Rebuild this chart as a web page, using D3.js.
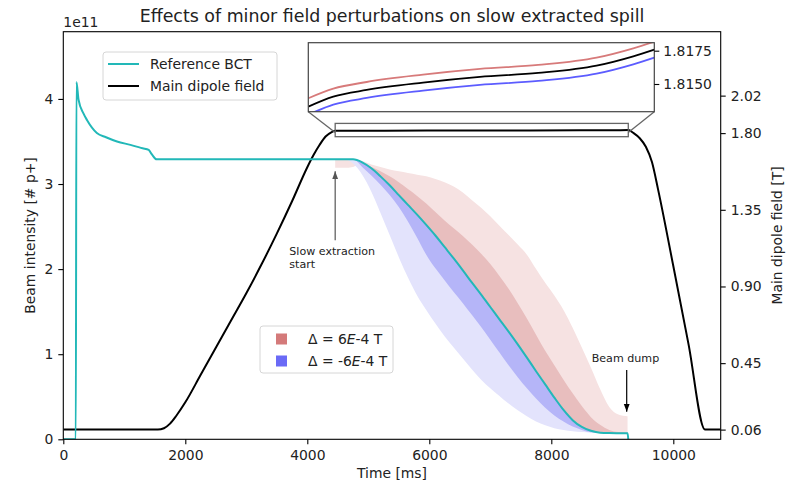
<!DOCTYPE html>
<html>
<head>
<meta charset="utf-8">
<script src="https://cdn.jsdelivr.net/npm/d3@7"></script>
<style>
body { margin: 0; background: #fff; }
svg { font-family: "DejaVu Sans", sans-serif; }
</style>
</head>
<body>
<svg id="chart" width="800" height="485"></svg>
<script>
// ---- data ----
// Reference BCT before extraction (time in ms, intensity in 1e11 p+)
const BCT_EARLY_T = [0, 205, 215, 250, 330, 390, 550, 700, 880, 1100, 1300, 1400, 1450, 1530];
const BCT_EARLY_V = [0, 0, 4.2, 3.99, 3.83, 3.75, 3.60, 3.55, 3.50, 3.46, 3.42, 3.40, 3.35, 3.29];

// extraction window, shared time grid of the BCT line and the bands
const EXT_T = [4457, 4600, 4750, 4900, 5050, 5200, 5350, 5500, 5650, 5800, 5950, 6100, 6250, 6400, 6550, 6700,
  6850, 7000, 7150, 7300, 7450, 7600, 7750, 7900, 8050, 8200, 8350, 8500, 8650, 8800, 8950, 9100, 9250];
const BCT_EXT = [3.29, 3.29, 3.29, 3.255, 3.185, 3.09, 2.985, 2.87, 2.755, 2.64, 2.52, 2.395, 2.26, 2.125, 1.985, 1.84,
  1.70, 1.555, 1.41, 1.265, 1.115, 0.96, 0.80, 0.645, 0.49, 0.345, 0.225, 0.145, 0.10, 0.077, 0.073, 0.072, 0.07];
const BCT_END_T = [9262];
const BCT_END_V = [0];

// +6E-4 T : inner and outer envelopes
const RED_INNER_UP = [3.29, 3.29, 3.29, 3.25, 3.20, 3.15, 3.09, 3.02, 2.94, 2.86, 2.77, 2.67, 2.57, 2.48, 2.39, 2.29,
  2.18, 2.06, 1.92, 1.77, 1.60, 1.42, 1.23, 1.04, 0.87, 0.70, 0.54, 0.39, 0.26, 0.17, 0.11, 0.085, 0.08];
const RED_OUTER_UP = [3.29, 3.29, 3.29, 3.27, 3.23, 3.20, 3.17, 3.15, 3.13, 3.11, 3.09, 3.06, 3.02, 2.97, 2.90, 2.81,
  2.72, 2.62, 2.51, 2.40, 2.29, 2.17, 2.00, 1.84, 1.69, 1.52, 1.31, 1.08, 0.84, 0.59, 0.38, 0.29, 0.27];
const RED_OUTER_LOW = [3.19, 3.19, 3.20, 3.255, 3.185, 3.09, 2.985, 2.87, 2.755, 2.64, 2.52, 2.395, 2.26, 2.125, 1.985, 1.84,
  1.70, 1.555, 1.41, 1.265, 1.115, 0.96, 0.80, 0.645, 0.49, 0.345, 0.225, 0.145, 0.10, 0.077, 0.073, 0.072, 0.07];

// -6E-4 T : inner and outer envelopes
const BLUE_INNER_LOW = [3.29, 3.29, 3.29, 3.20, 3.10, 2.99, 2.87, 2.73, 2.56, 2.37, 2.17, 2.01, 1.87, 1.73, 1.60, 1.46,
  1.32, 1.17, 1.02, 0.87, 0.73, 0.60, 0.48, 0.37, 0.28, 0.21, 0.15, 0.11, 0.082, 0.074, 0.072, 0.07, 0.07];
const BLUE_OUTER_LOW = [3.29, 3.29, 3.24, 3.11, 2.91, 2.66, 2.40, 2.14, 1.90, 1.69, 1.52, 1.36, 1.21, 1.08, 0.95, 0.82,
  0.70, 0.60, 0.51, 0.42, 0.34, 0.27, 0.21, 0.165, 0.13, 0.11, 0.095, 0.085, 0.078, 0.074, 0.072, 0.07, 0.07];

// main dipole field [T]
const RAMP_UP_T = [0, 1550, 1650, 1750, 1850, 2000, 2250, 2500, 2750, 3000, 3250, 3500, 3750, 4000, 4100, 4200, 4300, 4400];
const RAMP_UP_B = [0.06, 0.06, 0.068, 0.095, 0.14, 0.22, 0.38, 0.54, 0.70, 0.86, 1.03, 1.21, 1.40, 1.60, 1.67, 1.73, 1.78, 1.806];
const FLAT_T = [4457, 4804, 5268, 6050, 6841, 7650, 8460, 8970, 9262];
const FLAT_B = [1.8133, 1.81405, 1.81455, 1.8151, 1.81553, 1.81583, 1.81638, 1.81708, 1.81758];
const FLAT_B_PLUS = [1.81393, 1.81465, 1.81515, 1.8157, 1.81613, 1.81643, 1.81698, 1.81768, 1.81818];
const FLAT_B_MINUS = [1.8127, 1.81345, 1.81395, 1.8145, 1.81493, 1.81523, 1.81578, 1.81648, 1.81698];
const RAMP_DOWN_T = [9350, 9450, 9550, 9650, 9750, 10000, 10250, 10520, 10777];
const RAMP_DOWN_B = [1.80, 1.77, 1.72, 1.63, 1.47, 1.02, 0.56, 0.06, 0.06];

// ticks
const TIME_TICKS = [0, 2000, 4000, 6000, 8000, 10000];
const BEAM_TICKS = [0, 1, 2, 3, 4];
const FIELD_TICKS = [0.06, 0.45, 0.90, 1.35, 1.80, 2.02];
const INSET_TICKS = [1.815, 1.8175];

// zoomed region marked on the main axes
const MARK_T = [4457, 9262];
const MARK_B = [1.779, 1.857];
const MARK_JOIN_B = 1.804;

// ---- layout ----
const SVG = d3.select('#chart');
const LEFT = 63.3, RIGHT = 720.7, TOP = 31.7, BOTTOM = 439.3;
const TXT = '#222';

const X = d3.scaleLinear().domain([0, 10777]).range([LEFT, RIGHT]);
const Y_BEAM = d3.scaleLinear().domain([0, 4.79]).range([BOTTOM, TOP]);
const Y_FIELD = d3.scaleLinear().domain([0.0031, 2.3952]).range([BOTTOM, TOP]);

// inset axes
const IN_L = 308.3, IN_R = 654.3, IN_T = 42.7, IN_B = 111.7;
const X_IN = d3.scaleLinear().domain(MARK_T).range([IN_L, IN_R]);
const Y_IN = d3.scaleLinear().domain([1.81292, 1.8181]).range([IN_B, IN_T]);

const defs = SVG.append('defs');
defs.append('clipPath').attr('id', 'clip-main')
  .append('rect').attr('x', LEFT).attr('y', TOP).attr('width', RIGHT - LEFT).attr('height', BOTTOM - TOP);
defs.append('clipPath').attr('id', 'clip-inset')
  .append('rect').attr('x', IN_L).attr('y', IN_T).attr('width', IN_R - IN_L).attr('height', IN_B - IN_T);
['#555', '#000'].forEach((c, i) => {
  defs.append('marker').attr('id', 'arrow' + i)
    .attr('markerUnits', 'userSpaceOnUse')
    .attr('markerWidth', 9).attr('markerHeight', 8)
    .attr('refX', 8).attr('refY', 4).attr('orient', 'auto')
    .append('path').attr('d', 'M0,1 L8,4 L0,7 Z').attr('fill', c);
});

// title
SVG.append('text')
  .attr('x', (LEFT + RIGHT) / 2).attr('y', 21.5)
  .attr('text-anchor', 'middle').attr('font-size', 17.4).attr('fill', TXT)
  .text('Effects of minor field perturbations on slow extracted spill');

const plot = SVG.append('g').attr('clip-path', 'url(#clip-main)');

// bands
const idx = d3.range(EXT_T.length);
const band = (low, up) => d3.area()
  .x(i => X(EXT_T[i])).y0(i => Y_BEAM(low[i])).y1(i => Y_BEAM(up[i]))
  .curve(d3.curveMonotoneX)(idx);

plot.append('path').attr('d', band(RED_OUTER_LOW, RED_OUTER_UP)).attr('fill', '#f6e2e2');
plot.append('path').attr('d', band(BCT_EXT, RED_INNER_UP)).attr('fill', '#e8bebe');
plot.append('path').attr('d', band(BLUE_OUTER_LOW, BCT_EXT)).attr('fill', '#e3e3fc');
plot.append('path').attr('d', band(BLUE_INNER_LOW, BCT_EXT)).attr('fill', '#b5b5f8');

// dipole field
const FIELD_T = RAMP_UP_T.concat(FLAT_T, RAMP_DOWN_T);
const FIELD_B = RAMP_UP_B.concat(FLAT_B, RAMP_DOWN_B);
plot.append('path')
  .attr('d', d3.line().x(i => X(FIELD_T[i])).y(i => Y_FIELD(FIELD_B[i])).curve(d3.curveMonotoneX)(d3.range(FIELD_T.length)))
  .attr('fill', 'none').attr('stroke', '#000').attr('stroke-width', 2);

// reference BCT
const BCT_T = BCT_EARLY_T.concat(EXT_T, BCT_END_T);
const BCT_V = BCT_EARLY_V.concat(BCT_EXT, BCT_END_V);
plot.append('path')
  .attr('d', d3.line().x(i => X(BCT_T[i])).y(i => Y_BEAM(BCT_V[i])).curve(d3.curveMonotoneX)(d3.range(BCT_T.length)))
  .attr('fill', 'none').attr('stroke', '#22b8b8').attr('stroke-width', 2);

// marked region + connectors
SVG.append('rect')
  .attr('x', X(MARK_T[0])).attr('y', Y_FIELD(MARK_B[1]))
  .attr('width', X(MARK_T[1]) - X(MARK_T[0])).attr('height', Y_FIELD(MARK_B[0]) - Y_FIELD(MARK_B[1]))
  .attr('fill', 'none').attr('stroke', '#666').attr('stroke-width', 1.3);
SVG.append('line').attr('x1', IN_L).attr('y1', IN_B).attr('x2', X(MARK_T[0])).attr('y2', Y_FIELD(MARK_JOIN_B))
  .attr('stroke', '#666').attr('stroke-width', 1.3);
SVG.append('line').attr('x1', IN_R).attr('y1', IN_B).attr('x2', X(MARK_T[1])).attr('y2', Y_FIELD(MARK_JOIN_B))
  .attr('stroke', '#666').attr('stroke-width', 1.3);

// inset
const inset = SVG.append('g');
inset.append('rect').attr('x', IN_L).attr('y', IN_T).attr('width', IN_R - IN_L).attr('height', IN_B - IN_T)
  .attr('fill', '#fff');
const insetLines = inset.append('g').attr('clip-path', 'url(#clip-inset)');
[[FLAT_B_PLUS, '#d77a7a'], [FLAT_B_MINUS, '#5c5cff'], [FLAT_B, '#000']].forEach(([vals, col]) => {
  insetLines.append('path')
    .attr('d', d3.line().x(i => X_IN(FLAT_T[i])).y(i => Y_IN(vals[i])).curve(d3.curveMonotoneX)(d3.range(FLAT_T.length)))
    .attr('fill', 'none').attr('stroke', col).attr('stroke-width', 1.8);
});
inset.append('rect').attr('x', IN_L).attr('y', IN_T).attr('width', IN_R - IN_L).attr('height', IN_B - IN_T)
  .attr('fill', 'none').attr('stroke', '#444').attr('stroke-width', 1.2);
const inAxis = inset.append('g').attr('transform', `translate(${IN_R},0)`)
  .call(d3.axisRight(Y_IN).tickValues(INSET_TICKS).tickFormat(d3.format('.4f')).tickSize(5).tickPadding(4));

// legend: lines
const leg1 = SVG.append('g');
leg1.append('rect').attr('x', 103).attr('y', 52).attr('width', 174).attr('height', 48).attr('rx', 3)
  .attr('fill', '#fff').attr('fill-opacity', 0.8).attr('stroke', '#d6d6d6');
[['Reference BCT', '#22b8b8'], ['Main dipole field', '#000']].forEach(([label, col], i) => {
  leg1.append('line').attr('x1', 108).attr('x2', 139).attr('y1', 64 + i * 22).attr('y2', 64 + i * 22)
    .attr('stroke', col).attr('stroke-width', 2);
  leg1.append('text').attr('x', 150).attr('y', 69 + i * 22).attr('font-size', 13.9).attr('fill', TXT).text(label);
});

// legend: bands
const leg2 = SVG.append('g');
leg2.append('rect').attr('x', 260).attr('y', 326).attr('width', 133).attr('height', 47).attr('rx', 3)
  .attr('fill', '#fff').attr('fill-opacity', 0.8).attr('stroke', '#d6d6d6');
[['6', '#d47a7a'], ['-6', '#6a6af6']].forEach(([v, col], i) => {
  leg2.append('rect').attr('x', 276).attr('y', 333.5 + i * 22).attr('width', 11).attr('height', 11).attr('fill', col);
  const t = leg2.append('text').attr('x', 308).attr('y', 344 + i * 22).attr('font-size', 13.9).attr('fill', TXT);
  t.append('tspan').text('Δ = ' + v);
  t.append('tspan').attr('font-style', 'italic').text('E');
  t.append('tspan').text('-4 T');
});

// annotations
SVG.append('line').attr('x1', X(4457)).attr('x2', X(4457)).attr('y1', Y_BEAM(2.34)).attr('y2', Y_BEAM(3.15))
  .attr('stroke', '#555').attr('stroke-width', 1.2).attr('marker-end', 'url(#arrow0)');
const slow = SVG.append('text').attr('x', 289.3).attr('y', 255).attr('font-size', 11.1).attr('fill', TXT);
slow.append('tspan').attr('x', 289.3).text('Slow extraction');
slow.append('tspan').attr('x', 289.3).attr('dy', 13).text('start');

SVG.append('line').attr('x1', X(9236)).attr('x2', X(9236)).attr('y1', Y_BEAM(0.815)).attr('y2', Y_BEAM(0.324))
  .attr('stroke', '#000').attr('stroke-width', 1.2).attr('marker-end', 'url(#arrow1)');
SVG.append('text').attr('x', 591.7).attr('y', 362).attr('font-size', 11.1).attr('fill', TXT).text('Beam dump');

// axes
const styleAxis = g => {
  g.select('.domain').remove();
  g.selectAll('.tick line').attr('stroke', '#000').attr('stroke-width', 1.1);
  g.selectAll('.tick text').attr('font-size', 13.9).attr('fill', TXT).attr('font-family', 'DejaVu Sans');
};
inAxis.call(styleAxis);

SVG.append('g').attr('transform', `translate(0,${BOTTOM})`)
  .call(d3.axisBottom(X).tickValues(TIME_TICKS).tickFormat(d3.format('d')).tickSize(5).tickPadding(6))
  .call(styleAxis);
SVG.append('g').attr('transform', `translate(${LEFT},0)`)
  .call(d3.axisLeft(Y_BEAM).tickValues(BEAM_TICKS).tickFormat(d3.format('d')).tickSize(5).tickPadding(5))
  .call(styleAxis);
SVG.append('g').attr('transform', `translate(${RIGHT},0)`)
  .call(d3.axisRight(Y_FIELD).tickValues(FIELD_TICKS).tickFormat(d3.format('.2f')).tickSize(5).tickPadding(5))
  .call(styleAxis);

SVG.append('rect').attr('x', LEFT).attr('y', TOP).attr('width', RIGHT - LEFT).attr('height', BOTTOM - TOP)
  .attr('fill', 'none').attr('stroke', '#000').attr('stroke-width', 1.1);

// axis labels
SVG.append('text').attr('x', LEFT).attr('y', 27).attr('font-size', 13.9).attr('fill', TXT).text('1e11');
SVG.append('text').attr('x', (LEFT + RIGHT) / 2).attr('y', 478).attr('text-anchor', 'middle')
  .attr('font-size', 13.9).attr('fill', TXT).text('Time [ms]');
SVG.append('text').attr('transform', `translate(35,${(TOP + BOTTOM) / 2}) rotate(-90)`).attr('text-anchor', 'middle')
  .attr('font-size', 13.9).attr('fill', TXT).text('Beam intensity [# p+]');
SVG.append('text').attr('transform', `translate(782,${(TOP + BOTTOM) / 2}) rotate(-90)`).attr('text-anchor', 'middle')
  .attr('font-size', 13.9).attr('fill', TXT).text('Main dipole field [T]');
</script>
</body>
</html>
